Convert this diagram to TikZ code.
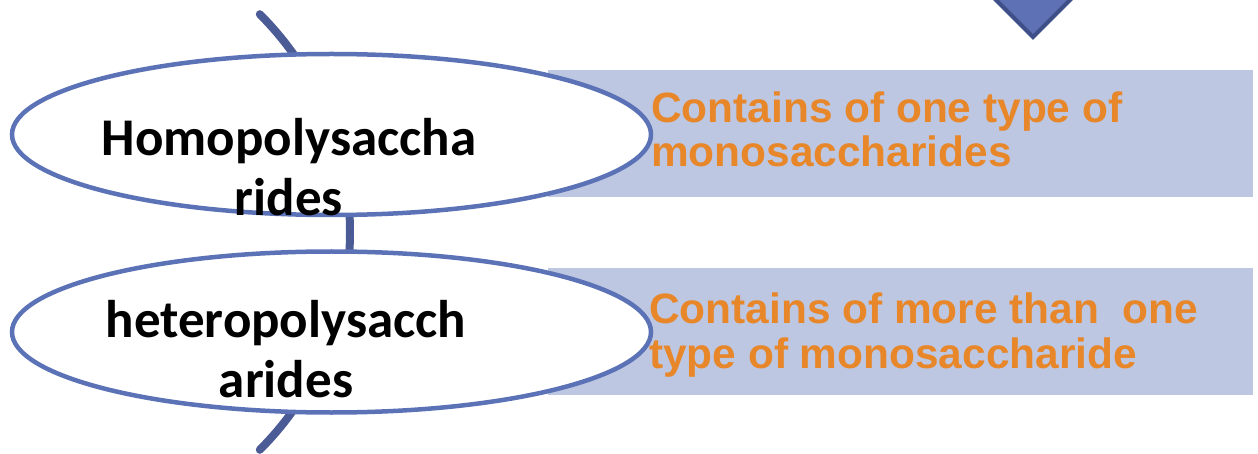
\documentclass[tikz,border=0pt]{standalone}
\usepackage{fontspec}
\setmainfont{Carlito}
\newfontfamily\descfont{Liberation Sans}
\usetikzlibrary{shapes.geometric}
\definecolor{arcblue}{HTML}{4B5B96}
\definecolor{ringblue}{HTML}{5B72B7}
\definecolor{bandblue}{HTML}{BDC7E1}
\definecolor{tipblue}{HTML}{5D71B4}
\definecolor{tipedge}{HTML}{3F5088}
\definecolor{descorange}{HTML}{E8872A}
\tikzset{
  item/.style={ellipse, draw=ringblue, line width=4.5pt, fill=white,
    minimum width=639pt, minimum height=161pt, inner sep=0pt},
  band/.style={rectangle, fill=bandblue, minimum width=705pt,
    minimum height=127pt, inner sep=0pt},
  itemtext/.style={align=center, inner sep=0pt, anchor=base,
    font=\fontsize{53}{60}\selectfont\bfseries},
  desctext/.style={align=left, inner sep=0pt, anchor=base west, text=descorange,
    font=\descfont\fontsize{42.4}{44.5}\selectfont\bfseries},
}

\begin{document}
\begin{tikzpicture}[x=1pt,y=-1pt]
\useasboundingbox (0,0) rectangle (1258,454);
% curved spine behind the items
\draw[arcblue, line width=8pt, line cap=round] (42,232) ++(45:308) arc (45:-45:308);
% arrow tip at the top
\filldraw[fill=tipblue, draw=tipedge, line width=4pt, line join=miter]
  (980,-16) -- (1033,37) -- (1086,-16);
% bands
\node[band] (band1) at (900.5,133.5) {};
\node[band] (band2) at (900.5,331.5) {};
% items
\node[item] (homo) at (331.5,134.5) {};
\node[item] (hetero) at (331.5,332) {};
\node[itemtext] (homoname) at (289,216) {Homopolysaccha\\rides};
\node[itemtext] (heteroname) at (286,397) {heteropolysacch\\arides};
% descriptions
\node[desctext] (homodesc) at (651,167) {Contains of one type of\\monosaccharides};
\node[desctext] (heterodesc) at (649,368) {Contains of more than \ one\\type of monosaccharide};
\end{tikzpicture}
\end{document}
